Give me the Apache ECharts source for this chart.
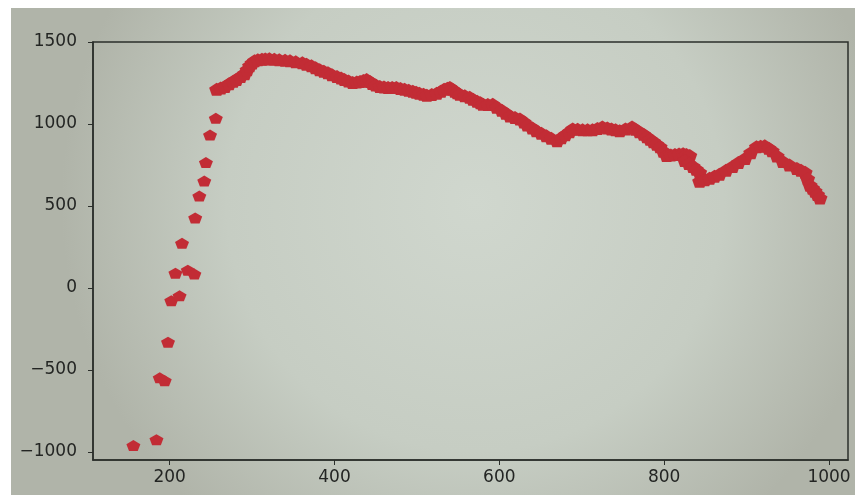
<!DOCTYPE html>
<html>
<head>
<meta charset="utf-8">
<script src="https://cdn.jsdelivr.net/npm/echarts@6/dist/echarts.min.js"></script>
<style>
  html, body { margin: 0; padding: 0; background: #fff; }
  #container { width: 860px; height: 495px; }
</style>
</head>
<body>
<div id="container"></div>
<script>
// sparse points on the rising part
var xSparse = [156, 184, 188, 194, 198, 202, 212, 207, 222, 230, 215, 231, 236, 242, 244, 249, 256];
var ySparse = [-962, -926, -548, -566, -331, -78, -48, 90, 108, 84, 272, 427, 560, 652, 765, 933, 1035];

// dense points forming the thick band
var xDense = [257, 262, 267, 272, 277, 281, 286, 291, 294, 297, 300, 303, 307, 312, 316, 321, 327, 333,
  340, 346, 353, 361, 366, 372, 377, 382, 387, 392, 397, 403, 408, 412, 417, 422, 427, 431, 435,
  439, 443, 446, 450, 455, 460, 465, 470, 475, 480, 485, 490, 495, 499, 503, 508, 512, 518, 524,
  529, 533, 537, 540, 543, 546, 549, 552, 558, 564, 568, 573, 577, 580, 586, 592, 597, 603, 608,
  613, 619, 625, 630, 634, 640, 645, 651, 657, 663, 670, 675, 680, 685, 689, 695, 701, 707, 713,
  719, 725, 731, 736, 741, 746, 753, 761, 765, 770, 775, 779, 783, 787, 791, 795, 799, 803, 808,
  813, 818, 823, 827, 831,
  825, 830, 835, 839, 843,
  843, 849, 855, 861, 867, 875, 883, 890, 898, 905, 912, 917, 922, 927, 931, 937, 944, 952, 961,
  966, 971, 974, 977, 980, 983, 986, 989];
var yDense = [1211, 1220, 1229, 1245, 1260, 1271, 1290, 1307, 1330, 1355, 1372, 1386, 1392, 1395, 1397,
  1398, 1395, 1392, 1389, 1386, 1380, 1373, 1365, 1355, 1343, 1331, 1322, 1313, 1300, 1289, 1280,
  1271, 1262, 1253, 1256, 1259, 1265, 1271, 1259, 1247, 1238, 1229, 1226, 1223, 1223, 1223, 1217,
  1211, 1205, 1199, 1193, 1187, 1181, 1175, 1180, 1187, 1199, 1211, 1218, 1223, 1211, 1199, 1190,
  1181, 1172, 1163, 1151, 1139, 1130, 1120, 1118, 1120, 1102, 1084, 1066, 1048, 1039, 1030, 1012,
  994, 976, 958, 943, 928, 913, 898, 916, 934, 952, 970, 967, 964, 964, 964, 973, 982, 976, 970,
  964, 958, 970, 982, 967, 952, 937, 922, 907, 892, 876, 861, 834, 807, 810, 813, 816, 819, 813,
  807,
  777, 759, 741, 723, 705,
  651, 660, 669, 681, 693, 717, 741, 765, 789, 825, 861, 864, 867, 852, 837, 804, 771, 750, 729,
  717, 705, 666, 626, 608, 590, 569, 548];

var xTicks = [200, 400, 600, 800, 1000];
var yTicks = [-1000, -500, 0, 500, 1000, 1500];

function pairs(xs, ys) {
  return xs.map((x, i) => [x, ys[i]]);
}

var pentagon = 'path://M0,-1 L0.95,-0.31 L0.59,0.81 L-0.59,0.81 L-0.95,-0.31 Z';
var red = '#c22c35';

var dom = document.getElementById("container");
var myChart = echarts.init(dom);

var option = {
  backgroundColor: '#ffffff',
  animation: false,
  graphic: [
    {
      type: 'rect',
      z: -10,
      silent: true,
      shape: { x: 11, y: 8, width: 844, height: 487 },
      style: {
        fill: {
          type: 'radial', x: 0.55, y: 0.4, r: 0.85,
          colorStops: [
            { offset: 0, color: '#d0d7ce' },
            { offset: 0.6, color: '#c6cdc3' },
            { offset: 1, color: '#b0b4a9' }
          ]
        }
      }
    }
  ],
  grid: {
    left: 93,
    right: 12,
    top: 42,
    bottom: 35,
    show: true,
    backgroundColor: 'transparent',
    borderColor: '#2b2f2b',
    borderWidth: 1.5
  },
  xAxis: {
    type: 'value',
    min: 107,
    max: 1023,
    splitLine: { show: false },
    axisLine: { show: true, onZero: false, lineStyle: { color: '#2b2f2b', width: 1.5 } },
    axisTick: { show: true, length: 5, customValues: xTicks, lineStyle: { color: '#2b2f2b' } },
    axisLabel: {
      customValues: xTicks,
      margin: 9,
      color: '#232523',
      fontFamily: 'DejaVu Sans',
      fontSize: 17,
      formatter: v => String(v)
    }
  },
  yAxis: {
    type: 'value',
    min: -1050,
    max: 1500,
    splitLine: { show: false },
    axisLine: { show: true, onZero: false, lineStyle: { color: '#2b2f2b', width: 1.5 } },
    axisTick: { show: true, length: 5, customValues: yTicks, lineStyle: { color: '#2b2f2b' } },
    axisLabel: {
      customValues: yTicks,
      margin: 16,
      color: '#232523',
      fontFamily: 'DejaVu Sans',
      fontSize: 17,
      formatter: v => v < 0 ? '\u2212' + Math.abs(v) : String(v)
    }
  },
  series: [
    {
      type: 'scatter',
      symbol: pentagon,
      symbolSize: [14, 11],
      itemStyle: { color: red, opacity: 1 },
      data: pairs(xSparse, ySparse)
    },
    {
      type: 'scatter',
      symbol: pentagon,
      symbolSize: [15, 13],
      itemStyle: { color: red, opacity: 1 },
      data: pairs(xDense, yDense)
    }
  ]
};

myChart.setOption(option);
window.onresize = function() {
  myChart.resize();
};
</script>
</body>
</html>
